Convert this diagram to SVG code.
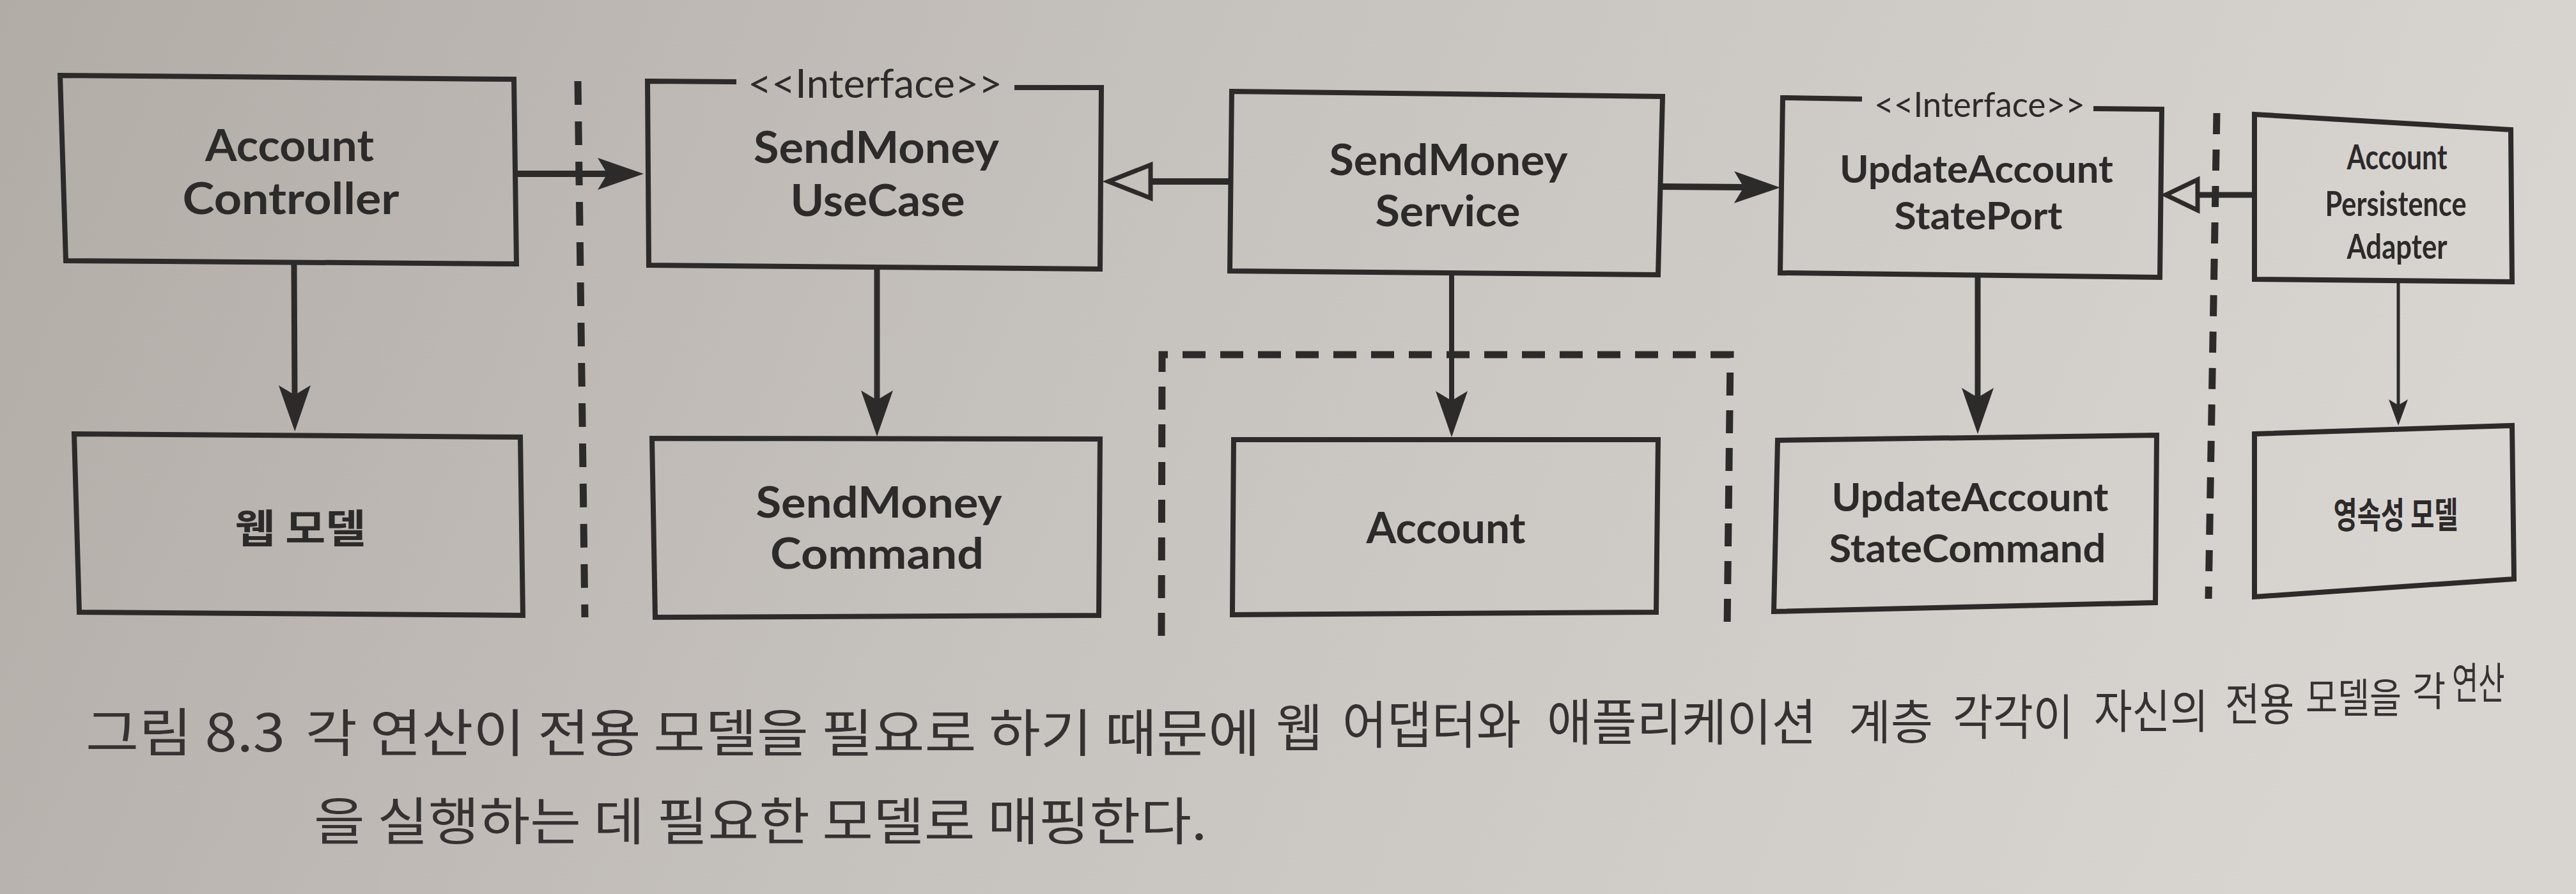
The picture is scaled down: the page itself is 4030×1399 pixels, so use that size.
<svg xmlns="http://www.w3.org/2000/svg" width="4030" height="1399" viewBox="0 0 4030 1399">
<style>
.box{fill:none;stroke:#2d2a2a;stroke-width:8;stroke-linejoin:miter}
.lbl{font-family:Lato,"Noto Sans",sans-serif;font-weight:700;fill:#2d2a2a;text-anchor:middle}
.klbl{font-family:"Noto Sans CJK KR","Noto Sans",sans-serif;font-weight:700;fill:#2d2a2a;text-anchor:middle}
.ster{font-family:Lato,"Noto Sans",sans-serif;font-weight:400;fill:#2d2a2a}
.cap{font-family:"Noto Sans CJK KR","Noto Sans",sans-serif;font-weight:400;fill:#363232}
.dash{fill:none;stroke:#2d2a2a;stroke-width:11}
</style>
<defs>
<linearGradient id="bg" x1="0" y1="0" x2="1" y2="0.15">
<stop offset="0" stop-color="#b2aca7"/>
<stop offset="0.45" stop-color="#c5c1bc"/>
<stop offset="1" stop-color="#d8d5d1"/>
</linearGradient>
<marker id="arrow" viewBox="-16 -26 74 52" markerWidth="74" markerHeight="52" refX="0" refY="0" markerUnits="userSpaceOnUse" orient="auto" overflow="visible"><path d="M57,0 L-15,-25 L0,0 L-15,25 Z" fill="#2d2a2a"/></marker>
<marker id="arrowSmall" viewBox="-10 -16 44 32" markerWidth="44" markerHeight="32" refX="0" refY="0" markerUnits="userSpaceOnUse" orient="auto" overflow="visible"><path d="M32,0 L-9,-15 L0,0 L-9,15 Z" fill="#2d2a2a"/></marker>
<marker id="realize" viewBox="-8 -34 92 68" markerWidth="92" markerHeight="68" refX="0" refY="0" markerUnits="userSpaceOnUse" orient="auto" overflow="visible"><path d="M0,-26 L66,0 L0,26 Z" fill="none" stroke="#2d2a2a" stroke-width="7"/></marker>
<marker id="realizeSmall" viewBox="-8 -32 76 64" markerWidth="76" markerHeight="64" refX="0" refY="0" markerUnits="userSpaceOnUse" orient="auto" overflow="visible"><path d="M0,-24 L50,0 L0,24 Z" fill="none" stroke="#2d2a2a" stroke-width="7"/></marker>
</defs>
<rect x="0" y="0" width="4030" height="1399" fill="url(#bg)"/>

<g id="boundaries">
<path class="dash" d="M904,127 L915,966" stroke-dasharray="37 26"/>
<path class="dash" d="M3468,177 L3455,937" stroke-width="9" stroke-dasharray="33 24"/>
<path id="domain-boundary" class="dash" d="M1817,997 L1818,555 L2707,555 L2702,985" stroke-dasharray="36 23" stroke-dashoffset="57"/>
</g>

<g id="connectors" fill="none" stroke="#2d2a2a">
<path d="M808,272 L950,272" stroke-width="10" marker-end="url(#arrow)"/>
<path d="M460,413 L461,618" stroke-width="9" marker-end="url(#arrow)"/>
<path d="M1372,421 L1372,626" stroke-width="9" marker-end="url(#arrow)"/>
<path d="M1926,284 L1800,284" stroke-width="10" marker-end="url(#realize)"/>
<path d="M2601,292 L2728,293" stroke-width="10" marker-end="url(#arrow)"/>
<path d="M2271,430 L2271,627" stroke-width="8" marker-end="url(#arrow)"/>
<path d="M3094,434 L3094,622" stroke-width="9" marker-end="url(#arrow)"/>
<path d="M3528,305 L3438,305" stroke-width="9" marker-end="url(#realizeSmall)"/>
<path d="M3752,441 L3752,634" stroke-width="5" marker-end="url(#arrowSmall)"/>
</g>

<g id="account-controller">
<polygon class="box" points="94,118 804,124 808,413 103,408"/>
<text class="lbl" x="453" y="252" font-size="68" textLength="264" lengthAdjust="spacingAndGlyphs">Account</text>
<text class="lbl" x="455" y="335" font-size="68" textLength="339" lengthAdjust="spacingAndGlyphs">Controller</text>
</g>

<g id="web-model">
<polygon class="box" points="116,679 814,684 818,963 124,958"/>
<text class="klbl" x="470" y="850" font-size="62" textLength="205" lengthAdjust="spacingAndGlyphs">웹 모델</text>
</g>

<g id="send-money-use-case">
<path class="box" d="M1152,128 L1013,127 L1015,415 L1721,421 L1723,137 L1587,137"/>
<text class="ster" x="1170" y="153" font-size="62" textLength="398" lengthAdjust="spacingAndGlyphs">&lt;&lt;Interface&gt;&gt;</text>
<text class="lbl" x="1371" y="255" font-size="68" textLength="384" lengthAdjust="spacingAndGlyphs">SendMoney</text>
<text class="lbl" x="1373" y="338" font-size="68" textLength="273" lengthAdjust="spacingAndGlyphs">UseCase</text>
</g>

<g id="send-money-command">
<polygon class="box" points="1020,686 1721,687 1719,963 1025,966"/>
<text class="lbl" x="1375" y="810" font-size="66" textLength="385" lengthAdjust="spacingAndGlyphs">SendMoney</text>
<text class="lbl" x="1372" y="890" font-size="66" textLength="334" lengthAdjust="spacingAndGlyphs">Command</text>
</g>

<g id="send-money-service">
<polygon class="box" points="1927,143 2601,151 2594,430 1924,424"/>
<text class="lbl" x="2266" y="274" font-size="66" textLength="373" lengthAdjust="spacingAndGlyphs">SendMoney</text>
<text class="lbl" x="2265" y="354" font-size="66" textLength="227" lengthAdjust="spacingAndGlyphs">Service</text>
</g>

<g id="account">
<polygon class="box" points="1930,688 2594,688 2591,958 1928,962"/>
<text class="lbl" x="2262" y="850" font-size="66" textLength="249" lengthAdjust="spacingAndGlyphs">Account</text>
</g>

<g id="update-account-state-port">
<path class="box" d="M2913,155 L2789,153 L2785,427 L3379,434 L3382,171 L3275,170"/>
<text class="ster" x="2932" y="183" font-size="54" textLength="330" lengthAdjust="spacingAndGlyphs">&lt;&lt;Interface&gt;&gt;</text>
<text class="lbl" x="3092" y="286" font-size="60" textLength="428" lengthAdjust="spacingAndGlyphs">UpdateAccount</text>
<text class="lbl" x="3095" y="359" font-size="60" textLength="263" lengthAdjust="spacingAndGlyphs">StatePort</text>
</g>

<g id="update-account-state-command">
<polygon class="box" points="2781,689 3374,681 3372,943 2775,957"/>
<text class="lbl" x="3082" y="800" font-size="62" textLength="433" lengthAdjust="spacingAndGlyphs">UpdateAccount</text>
<text class="lbl" x="3078" y="880" font-size="62" textLength="433" lengthAdjust="spacingAndGlyphs">StateCommand</text>
</g>

<g id="account-persistence-adapter">
<polygon class="box" points="3527,179 3928,203 3930,441 3527,437"/>
<text class="lbl" x="3750" y="265" font-size="54" textLength="157" lengthAdjust="spacingAndGlyphs">Account</text>
<text class="lbl" x="3748" y="338" font-size="54" textLength="221" lengthAdjust="spacingAndGlyphs">Persistence</text>
<text class="lbl" x="3750" y="405" font-size="54" textLength="157" lengthAdjust="spacingAndGlyphs">Adapter</text>
</g>

<g id="persistence-model">
<polygon class="box" points="3527,679 3930,666 3933,906 3527,934"/>
<text class="klbl" x="3748" y="826" font-size="56" textLength="195" lengthAdjust="spacingAndGlyphs">영속성 모델</text>
</g>

<g id="caption">
<text class="cap" x="134" y="1176" font-size="82" font-weight="700" textLength="312" lengthAdjust="spacingAndGlyphs">그림 8.3</text>
<text class="cap" x="478" y="1176" font-size="80" textLength="1493" lengthAdjust="spacingAndGlyphs">각 연산이 전용 모델을 필요로 하기 때문에</text>
<text class="cap" font-size="80" transform="translate(1996,1168)">웹</text>
<text class="cap" font-size="80" transform="translate(2100,1163) scale(0.95,1)">어댑터와</text>
<text class="cap" font-size="78" transform="translate(2420,1159) scale(0.98,1)">애플리케이션</text>
<text class="cap" font-size="74" transform="translate(2892,1157) scale(0.97,1)">계층</text>
<text class="cap" font-size="76" transform="translate(3055,1150) scale(0.9,1)">각각이</text>
<text class="cap" font-size="72" transform="translate(3276,1139) scale(0.9,1)">자신의</text>
<text class="cap" font-size="70" transform="translate(3481,1128) scale(0.84,1)">전용</text>
<text class="cap" font-size="64" transform="translate(3607,1115) scale(0.85,1)">모델을</text>
<text class="cap" font-size="63" transform="translate(3774,1104) scale(0.9,1)">각</text>
<text class="cap" font-size="68" transform="translate(3836,1094) scale(0.66,1)">연산</text>
<text class="cap" x="491" y="1314" font-size="80" textLength="1397" lengthAdjust="spacingAndGlyphs">을 실행하는 데 필요한 모델로 매핑한다.</text>
</g>
</svg>
